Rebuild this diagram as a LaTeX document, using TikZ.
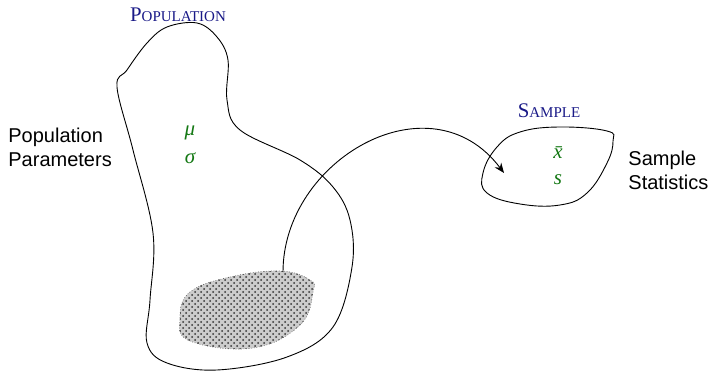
\documentclass[tikz,border=0pt]{standalone}
\usepackage{fontspec}
\newfontfamily\labelfont{Liberation Sans}
\newfontfamily\serifit{Liberation Serif}
\usetikzlibrary{patterns,arrows.meta}
\definecolor{titleblue}{RGB}{25,25,135}
\definecolor{paramgreen}{RGB}{20,120,20}
\newcommand{\fakesc}[2]{{\fontsize{10.4}{11}\selectfont #1}{\fontsize{7.5}{8}\selectfont #2}}
\begin{document}
\begin{tikzpicture}[x=0.5pt,y=-0.5pt,
  blob/.style={draw=black,line width=0.45pt},
  title/.style={text=titleblue,font=\serifit,inner sep=0pt,anchor=base},
  param/.style={text=paramgreen,inner sep=0pt,font=\serifit\itshape\fontsize{10.5}{11}\selectfont},
  side/.style={font=\labelfont\fontsize{10}{12}\selectfont,align=left,inner sep=0pt,anchor=west}]
\useasboundingbox (0,0) rectangle (710,373);
% population blob
\draw[blob] plot[smooth cycle,tension=0.6] coordinates {
 (197,23) (217,37) (228,60) (227,100) (240,130) (300,160) (333,187) (350,220) (352,267)
 (333,327) (287,357) (217,370) (167,363) (147,343) (150,300) (153,233) (133,150) (117,87) (127,70) (147,43) (167,27)};
% sample blob
\draw[blob] plot[smooth cycle,tension=0.7] coordinates {
 (483,173) (497,147) (520,132) (560,127) (607,131) (613,141) (607,163) (587,193) (560,205) (520,204) (487,193)};
% shaded sample region
\path[fill=gray!40] plot[smooth cycle,tension=0.7] coordinates {
 (190,292) (230,277) (280,271) (310,280) (313,292) (300,325) (253,348) (190,341) (180,318)};
\path[pattern=crosshatch dots,pattern color=black!80] plot[smooth cycle,tension=0.7] coordinates {
 (190,292) (230,277) (280,271) (310,280) (313,292) (300,325) (253,348) (190,341) (180,318)};
\draw[densely dotted,black!70,line width=0.3pt] plot[smooth cycle,tension=0.7] coordinates {
 (190,292) (230,277) (280,271) (310,280) (313,292) (300,325) (253,348) (190,341) (180,318)};
\coordinate (src) at (283,272);
\coordinate (dst) at (504,173);
\draw[line width=0.45pt,-{Stealth[length=5pt,width=4pt]}] (src) .. controls (283,160) and (430,75) .. (dst);
% titles
\node[title] (poptitle) at (178,22) {\fakesc{P}{OPULATION}};
\node[title] (samptitle) at (549,118) {\fakesc{S}{AMPLE}};
% parameters
\node[param] (mu) at (190,133) {μ};
\node[param] (sigma) at (190,158) {σ};
\node[param] (xbar) at (558,153) {\=x};
\node[param] (s) at (558,180) {s};
% side labels
\node[side] (poplab) at (8,147) {Population\\Parameters};
\node[side] (samplab) at (628,170) {Sample\\Statistics};
\end{tikzpicture}
\end{document}
